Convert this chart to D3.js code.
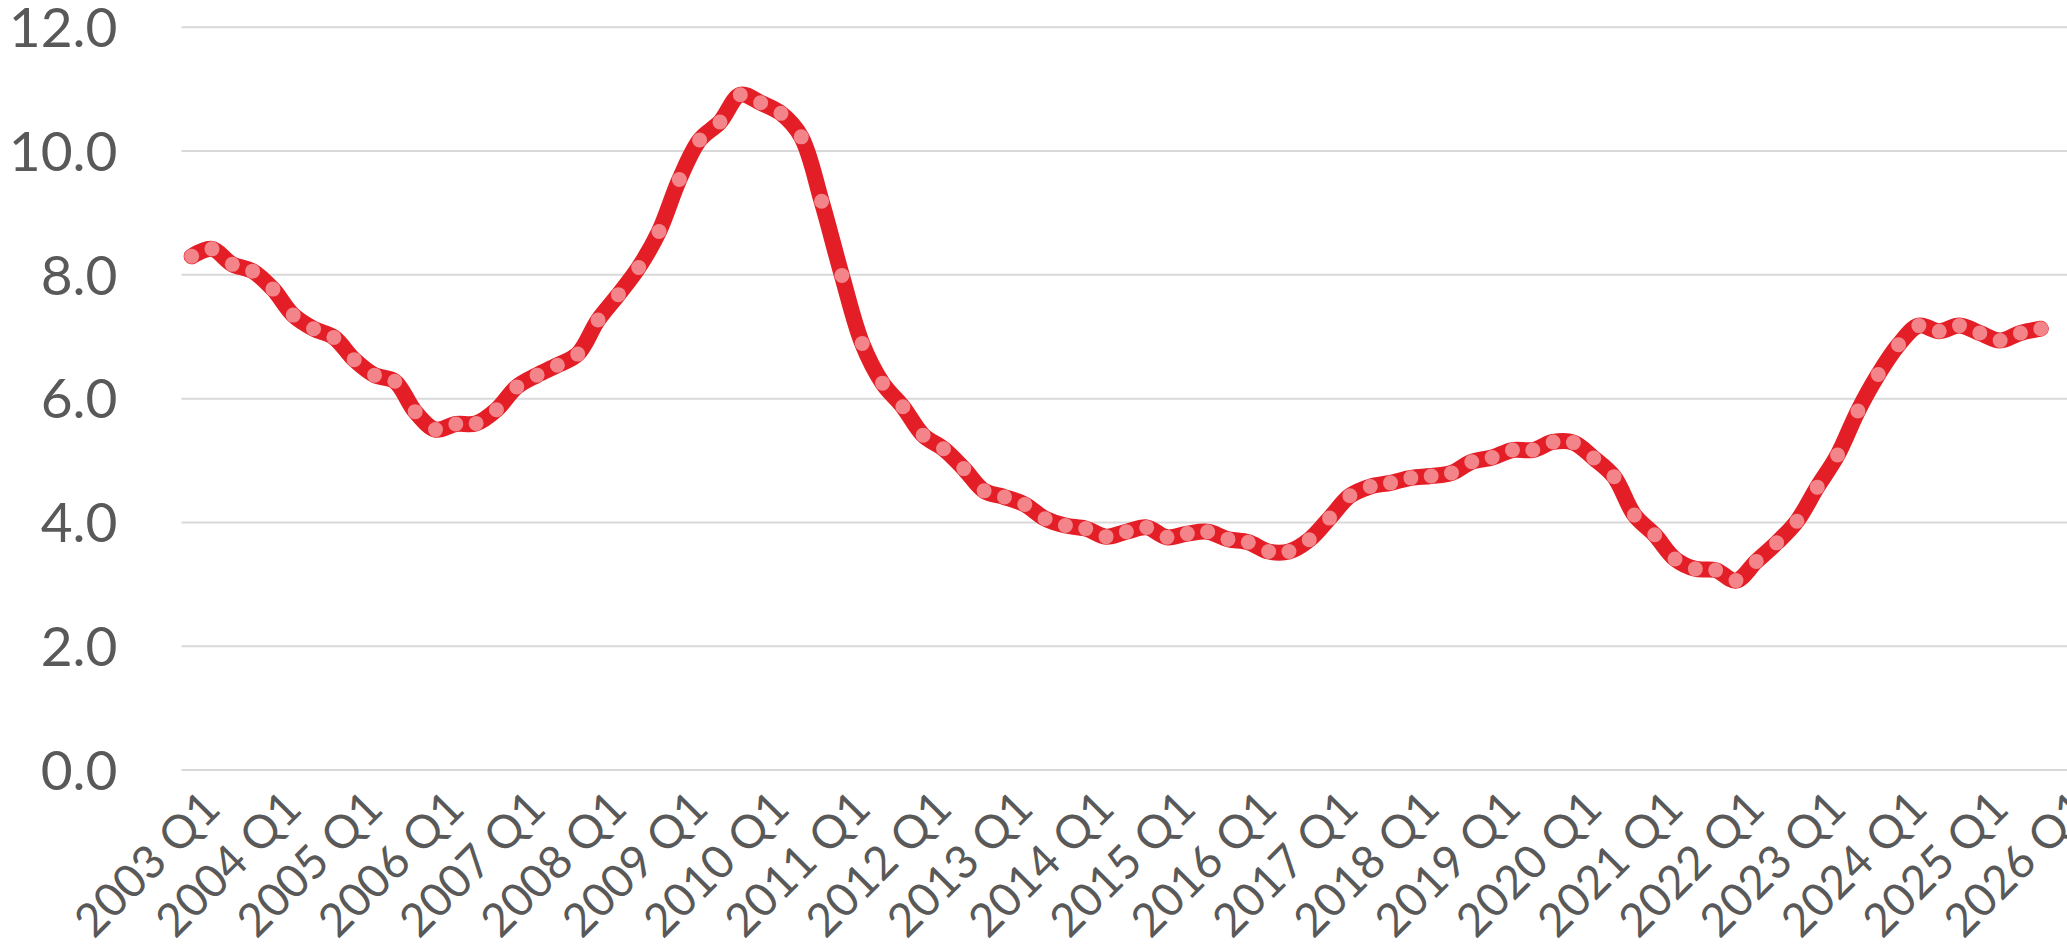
<!DOCTYPE html>
<html>
<head>
<meta charset="utf-8">
<script src="https://cdn.jsdelivr.net/npm/d3@7"></script>
<style>
  html, body { margin: 0; padding: 0; background: #ffffff; }
  svg { display: block; }
</style>
</head>
<body>
<svg id="chart" width="2067" height="952"></svg>
<script>
// ---- data ----
const years = d3.range(2003, 2027);
const quarterNames = ["Q1", "Q2", "Q3", "Q4"];
const categories = years.flatMap(y => quarterNames.map(q => `${y} ${q}`)).filter(c => c <= "2026 Q1");
const values = [
  8.30, 8.42, 8.17, 8.06, 7.77, 7.35, 7.13, 6.99, 6.63, 6.38,
  6.28, 5.79, 5.50, 5.59, 5.60, 5.82, 6.19, 6.38, 6.54, 6.72,
  7.27, 7.68, 8.12, 8.70, 9.54, 10.18, 10.47, 10.91, 10.78, 10.61,
  10.23, 9.19, 7.99, 6.89, 6.25, 5.87, 5.41, 5.19, 4.87, 4.51,
  4.41, 4.29, 4.06, 3.95, 3.90, 3.77, 3.85, 3.92, 3.76, 3.82,
  3.85, 3.73, 3.68, 3.53, 3.53, 3.72, 4.07, 4.43, 4.58, 4.64,
  4.72, 4.75, 4.80, 4.98, 5.05, 5.17, 5.17, 5.30, 5.29, 5.04,
  4.74, 4.12, 3.80, 3.41, 3.25, 3.23, 3.06, 3.37, 3.67, 4.02,
  4.57, 5.09, 5.80, 6.39, 6.87, 7.18, 7.09, 7.18, 7.06, 6.94,
  7.06, 7.13
];
const yTicks = [0, 2, 4, 6, 8, 10, 12];
const xTickLabels = years.map(y => `${y} Q1`);

// ---- layout ----
const W = 2067, H = 952;
const plotLeft = 181.5, band = 20.32;
const plotRight = plotLeft + band * categories.length;
const yTop = 27.3, yBottom = 770;

const svg = d3.select("#chart");

const x = d3.scaleBand().domain(categories).range([plotLeft, plotRight]).padding(0);
const xc = c => x(c) + x.bandwidth() / 2;
const y = d3.scaleLinear().domain([0, 12]).range([yBottom, yTop]);

// gridlines
svg.append("g")
  .selectAll("line")
  .data(yTicks)
  .join("line")
  .attr("x1", plotLeft)
  .attr("x2", W)
  .attr("y1", d => y(d))
  .attr("y2", d => y(d))
  .attr("stroke", "#d9d9d9")
  .attr("stroke-width", 2);

// y axis labels
const yAxis = svg.append("g")
  .attr("transform", `translate(${plotLeft},0)`)
  .call(d3.axisLeft(y).tickValues(yTicks).tickFormat(d3.format(".1f")).tickSize(0).tickPadding(64));
yAxis.select(".domain").remove();
yAxis.selectAll("text")
  .attr("fill", "#595959")
  .style("font-family", "Lato, 'Open Sans', sans-serif")
  .style("font-size", "55px")
  .attr("dy", "0.35em");

// x axis labels
const xAxis = svg.append("g")
  .attr("transform", `translate(0,${yBottom})`)
  .call(d3.axisBottom(x).tickValues(xTickLabels).tickSize(0));
xAxis.select(".domain").remove();
xAxis.selectAll("text")
  .attr("fill", "#595959")
  .style("font-family", "Lato, 'Open Sans', sans-serif")
  .style("font-size", "46px")
  .attr("text-anchor", "end")
  .attr("x", 0).attr("y", 0).attr("dy", 0)
  .attr("transform", "translate(31,41) rotate(-45)");

// line
const pts = values.map((v, i) => ({ c: categories[i], v }));
const line = d3.line()
  .x(d => xc(d.c))
  .y(d => y(d.v))
  .curve(d3.curveCatmullRom.alpha(0.5));

svg.append("path")
  .datum(pts)
  .attr("d", line)
  .attr("fill", "none")
  .attr("stroke", "#e31e26")
  .attr("stroke-width", 16)
  .attr("stroke-linejoin", "round")
  .attr("stroke-linecap", "round");

svg.append("g")
  .selectAll("circle")
  .data(pts)
  .join("circle")
  .attr("cx", d => xc(d.c))
  .attr("cy", d => y(d.v))
  .attr("r", 7.5)
  .attr("fill", "#f3858a");
</script>
</body>
</html>
